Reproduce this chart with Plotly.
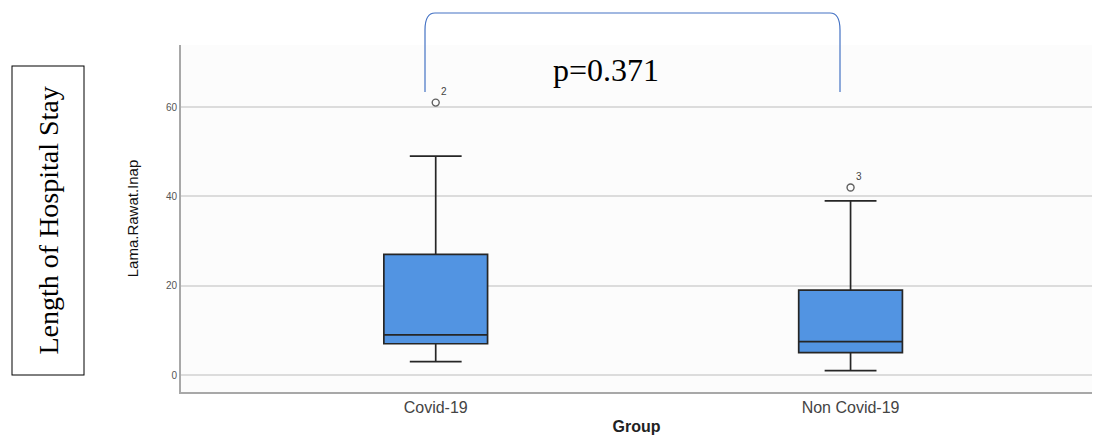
import plotly.graph_objects as go

# ---- data ----
categories = ["Covid-19", "Non Covid-19"]
q1_vals = [7, 5]
median_vals = [9, 7.5]
q3_vals = [27, 19]
lower_whisker = [3, 1]
upper_whisker = [49, 39]
outlier_vals = [61, 42]
outlier_ids = ["2", "3"]
y_ticks = [0, 20, 40, 60]
p_text = "p=0.371"

fig = go.Figure()

fig.add_trace(go.Box(
    x=categories,
    q1=q1_vals, median=median_vals, q3=q3_vals,
    lowerfence=lower_whisker, upperfence=upper_whisker,
    boxpoints=False,
    width=0.25,
    whiskerwidth=0.5,
    fillcolor="rgb(82,148,226)",
    line=dict(color="#262626", width=1.7),
    showlegend=False,
    hoverinfo="skip",
))

fig.add_trace(go.Scatter(
    x=categories, y=outlier_vals,
    mode="markers+text",
    marker=dict(symbol="circle-open", size=7, color="#606060", line=dict(width=1.4)),
    text=outlier_ids,
    textposition="top right",
    textfont=dict(family="Liberation Sans, Arial", size=10, color="#444"),
    showlegend=False,
    cliponaxis=False,
    hoverinfo="skip",
))

W, H = 1094, 441
L, R, T, B = 181, 1094 - 1092, 45, 441 - 392

def px_to_paper(px, py):
    return (px - L) / (W - L - R), ((H - B) - py) / (H - T - B)

# bracket
x1, yb = px_to_paper(425, 92)
x2, yc = px_to_paper(435, 30)
x3, yt = px_to_paper(830, 13)
x4, _ = px_to_paper(840, 92)
path = (f"M {x1},{yb} L {x1},{yc} Q {x1},{yt} {x2},{yt} "
        f"L {x3},{yt} Q {x4},{yt} {x4},{yc} L {x4},{yb}")
fig.add_shape(type="path", path=path, xref="paper", yref="paper",
              line=dict(color="#4472C4", width=1.2))

px_, py_ = px_to_paper(606, 70)
fig.add_annotation(text=p_text, x=px_, y=py_, xref="paper", yref="paper",
                   showarrow=False, xanchor="center", yanchor="middle",
                   font=dict(family="Liberation Serif, Times New Roman", size=32, color="black"))

lx, ly = px_to_paper(47.5, 221)
fig.add_annotation(text="Length of Hospital Stay", x=lx, y=ly, xref="paper", yref="paper",
                   showarrow=False, xanchor="center", yanchor="middle", textangle=-90,
                   font=dict(family="Liberation Serif, Times New Roman", size=28, color="black"),
                   bordercolor="black", borderwidth=1, borderpad=20)

fig.update_layout(
    width=W, height=H,
    margin=dict(l=L, r=R, t=T, b=B),
    paper_bgcolor="white",
    plot_bgcolor="#fcfcfc",
    font=dict(family="Liberation Sans, Arial"),
)

fig.update_xaxes(
    type="category",
    range=[-0.614, 1.582],
    showgrid=False,
    showline=True, linecolor="#a8a8a8", linewidth=2,
    ticks="",
    tickfont=dict(size=16, color="#444"),
    title=dict(text="<b>Group</b>", font=dict(size=16, color="#222"), standoff=6),
    zeroline=False,
    automargin=False,
)

fig.update_yaxes(
    range=[-3.8, 73.9],
    tickvals=y_ticks,
    showgrid=True, gridcolor="#dcdcdc", gridwidth=1.5,
    showline=True, linecolor="#a8a8a8", linewidth=2,
    ticks="",
    tickfont=dict(size=10, color="#555"),
    title=dict(text="Lama.Rawat.Inap", font=dict(size=15, color="#111"), standoff=24),
    zeroline=False,
    automargin=False,
)

fig.write_html("out.html",
               config={"displayModeBar": False},
               post_script="document.body.style.margin='0';document.body.style.overflow='hidden';")
